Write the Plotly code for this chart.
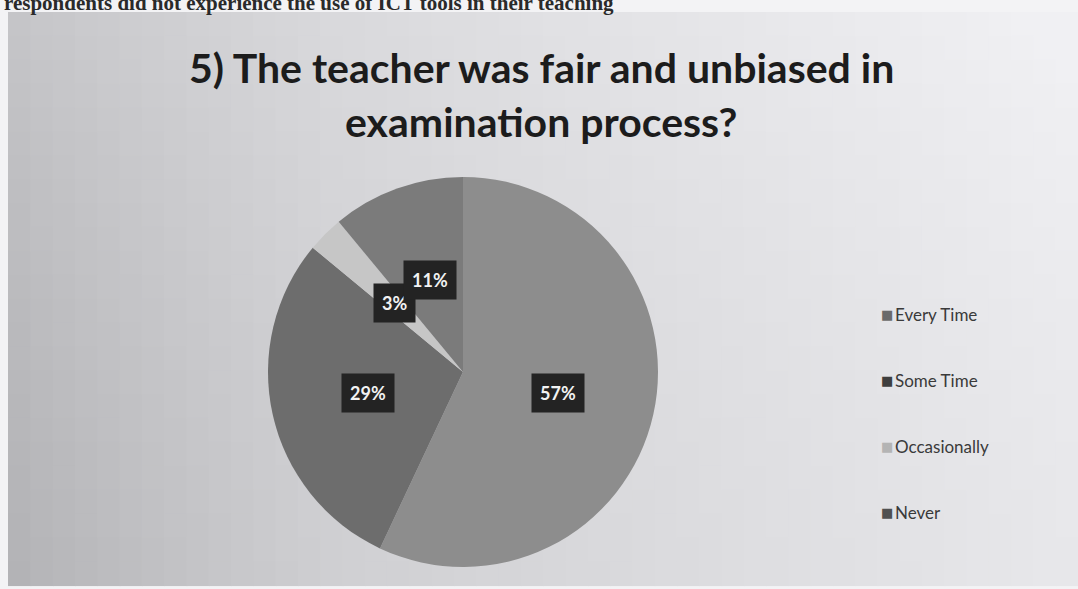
import numpy as np
import plotly.graph_objects as go

# ---- data ----
categories = ["Every Time", "Some Time", "Occasionally", "Never"]
percentages = [57, 29, 3, 11]
slice_colors = ["#8d8d8d", "#6d6d6d", "#c6c6c6", "#7b7b7b"]
legend_colors = ["#6a6a6a", "#3e3e3e", "#b4b4b4", "#505050"]
title_lines = ["5) The teacher was fair and unbiased in", "examination process?"]
page_text = "respondents did not experience the use of ICT tools in their teaching"

W, H = 1078, 589
cx_px, cy_px, R_px = 463, 372, 195


def px(x):
    return x / W


def py(y):
    return 1 - y / H


fig = go.Figure()

# ---- slide background (2D gradient approximated with a grid of tiles) ----
shapes = []
sx0, sx1, sy0, sy1 = 8, W, 12, 585
nx, ny = 48, 24
for i in range(nx):
    for j in range(ny):
        tx = (i + 0.5) / nx
        ty = (j + 0.5) / ny
        g = 192 + 40 * tx ** 0.8          # lighter to the right
        g += 10 * (1 - ty) ** 1.5          # lighter toward the top
        g -= 14 * max(0.0, 1 - tx / 0.3) * (0.4 + 0.6 * ty)  # darker left side
        g = int(max(150, min(240, g)))
        shapes.append(dict(type="rect", xref="paper", yref="paper",
                           x0=px(sx0 + (sx1 - sx0) * i / nx),
                           x1=px(sx0 + (sx1 - sx0) * (i + 1) / nx) + 0.0012,
                           y0=py(sy0 + (sy1 - sy0) * (j + 1) / ny) - 0.0018,
                           y1=py(sy0 + (sy1 - sy0) * j / ny),
                           fillcolor=f"rgb({g},{g},{min(255, g + 3)})",
                           line=dict(width=0), layer="below"))

# ---- pie ----
fig.add_trace(go.Pie(
    labels=categories, values=percentages, sort=False, direction="clockwise",
    rotation=0, marker=dict(colors=slice_colors, line=dict(width=0)),
    textinfo="none", showlegend=False, hoverinfo="label+percent",
    domain=dict(x=[px(cx_px - R_px), px(cx_px + R_px)],
                y=[py(cy_px + R_px), py(cy_px - R_px)]),
))

annotations = []

# percentage labels at mid-angle, half radius
vals = np.array(percentages, dtype=float)
ends = np.cumsum(vals) / vals.sum() * 360
starts = ends - vals / vals.sum() * 360
for p, s, e in zip(percentages, starts, ends):
    mid = np.deg2rad((s + e) / 2)
    fr = 0.5
    lx = cx_px + fr * R_px * np.sin(mid)
    ly = cy_px - fr * R_px * np.cos(mid)
    annotations.append(dict(x=px(lx), y=py(ly), xref="paper", yref="paper",
                            text=f"<b>{p}%</b>", showarrow=False,
                            xanchor="center", yanchor="middle",
                            font=dict(family="Lato", size=18, color="#f2f2f2"),
                            bgcolor="#232323", borderpad=8))

# title
for k, line in enumerate(title_lines):
    annotations.append(dict(x=px(541), y=py(68 + 54 * k), xref="paper", yref="paper",
                            xanchor="center", yanchor="middle",
                            text=f"<b>{line}</b>", showarrow=False,
                            font=dict(family="Lato", size=41, color="#1c1c1c")))

# cut-off page text above the slide
annotations.append(dict(x=px(2), y=py(3), xref="paper", yref="paper",
                        xanchor="left", yanchor="middle", text="<b>" + page_text + "</b>",
                        showarrow=False,
                        font=dict(family="Liberation Serif", size=21, color="#2a2a2a")))

# legend drawn as text entries
for k, (cat, col) in enumerate(zip(categories, legend_colors)):
    ly = 314 + 66 * k
    annotations.append(dict(x=px(879), y=py(ly), xref="paper", yref="paper",
                            xanchor="left", yanchor="middle", text="■",
                            showarrow=False,
                            font=dict(family="DejaVu Sans", size=13, color=col)))
    annotations.append(dict(x=px(893), y=py(ly), xref="paper", yref="paper",
                            xanchor="left", yanchor="middle", text=cat,
                            showarrow=False,
                            font=dict(family="Lato", size=17, color="#3a3a3a")))

fig.update_layout(
    width=W, height=H, margin=dict(l=0, r=0, t=0, b=0),
    paper_bgcolor="#f3f3f5", plot_bgcolor="rgba(0,0,0,0)",
    xaxis=dict(visible=False), yaxis=dict(visible=False),
    shapes=shapes, annotations=annotations, showlegend=False,
)

fig.write_html("out.html", config={"displayModeBar": False},
               post_script="document.body.style.margin='0';")
